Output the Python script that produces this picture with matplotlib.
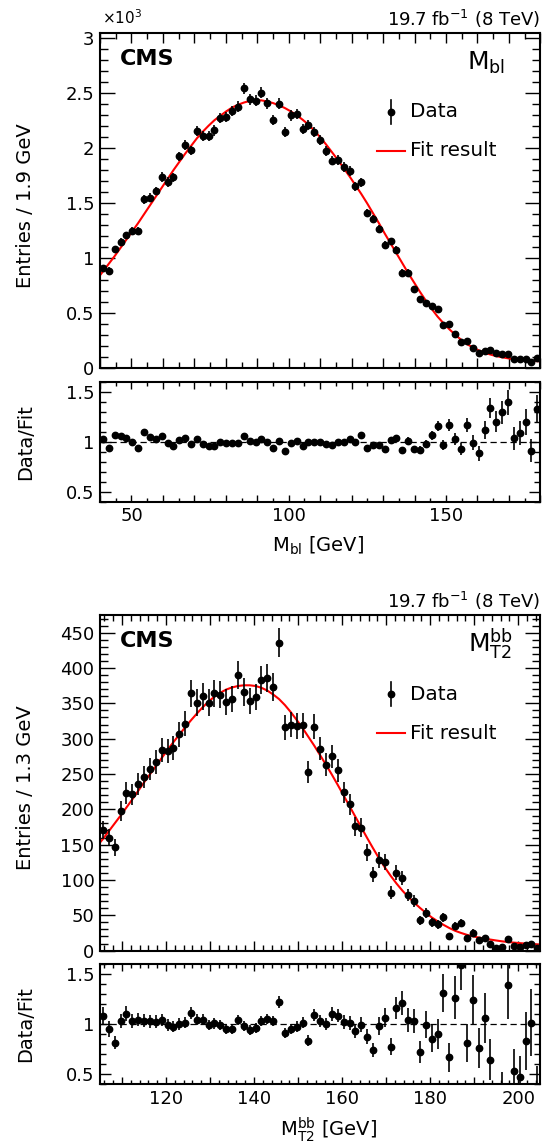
import numpy as np
import matplotlib
matplotlib.use('Agg')
import matplotlib.pyplot as plt
from matplotlib.ticker import MultipleLocator, FuncFormatter
from matplotlib.lines import Line2D

plt.rcParams['font.family'] = ['DejaVu Sans']
plt.rcParams['mathtext.fontset'] = 'dejavusans'
plt.rcParams['mathtext.default'] = 'regular'

# ---- M_bl distribution (75 bins, 40-180 GeV) ----
mbl_range = (40, 180)
mbl_counts = [908, 887, 1080, 1150, 1207, 1249, 1249, 1536, 1551, 1612,
              1739, 1693, 1736, 1926, 2029, 1980, 2156, 2110, 2110, 2162,
              2276, 2286, 2337, 2379, 2545, 2443, 2431, 2503, 2409, 2258,
              2403, 2144, 2298, 2310, 2174, 2210, 2150, 2074, 1973, 1888,
              1894, 1828, 1792, 1656, 1689, 1411, 1353, 1263, 1124, 1154,
              1079, 870, 870, 722, 634, 595, 568, 535, 393, 402,
              308, 236, 251, 181, 142, 157, 166, 136, 133, 130,
              85, 85, 85, 60, 90]
mbl_ratio = [1.027, 0.94, 1.067, 1.053, 1.037, 1.0, 0.94, 1.093, 1.043, 1.023,
             1.053, 0.983, 0.957, 1.02, 1.04, 0.977, 1.027, 0.977, 0.953, 0.953,
             0.997, 0.983, 0.99, 0.99, 1.053, 1.007, 0.997, 1.027, 0.993, 0.933,
             1.003, 0.903, 0.983, 1.003, 0.96, 0.997, 1.0, 0.993, 0.973, 0.963,
             0.993, 1.0, 1.023, 1.0, 1.067, 0.94, 0.967, 0.967, 0.923, 1.017,
             1.04, 0.917, 1.01, 0.923, 0.917, 0.977, 1.063, 1.157, 0.97, 1.167,
             1.03, 0.923, 1.167, 0.99, 0.883, 1.117, 1.337, 1.2, 1.293, 1.393,
             1.033, 1.09, 1.197, 0.91, 1.323]
# fit curve read at the bin centres, plus the values at the two axis ends
mbl_fit = [880, 950, 1020, 1095, 1170, 1245, 1320, 1400, 1480, 1560,
           1640, 1720, 1800, 1875, 1950, 2020, 2090, 2150, 2205, 2255,
           2295, 2335, 2370, 2395, 2415, 2430, 2435, 2435, 2425, 2410,
           2390, 2365, 2335, 2300, 2260, 2215, 2160, 2100, 2035, 1965,
           1895, 1820, 1745, 1665, 1585, 1500, 1410, 1320, 1225, 1135,
           1045, 955, 865, 780, 695, 615, 540, 470, 410, 355,
           305, 260, 220, 190, 163, 142, 125, 111, 100, 91,
           83, 77, 72, 68, 65]
mbl_fit_ends = [845, 63]

# ---- M_T2^bb distribution (75 bins, 105-205 GeV) ----
mt2_range = (105, 205)
mt2_counts = [171, 160, 146, 197, 223, 221, 236, 246, 257, 267,
              284, 282, 287, 306, 321, 364, 351, 360, 351, 364,
              362, 352, 356, 390, 366, 353, 359, 383, 386, 373,
              436, 316, 320, 318, 319, 253, 317, 286, 263, 275,
              255, 224, 207, 176, 174, 139, 108, 128, 125, 82,
              110, 103, 79, 70, 43, 53, 40, 37, 47, 21,
              35, 39, 18, 25, 15, 18, 10, 4, 5, 17,
              6, 5, 8, 9, 3]
mt2_ratio = [1.083, 0.95, 0.813, 1.03, 1.103, 1.03, 1.043, 1.033, 1.027, 1.023,
             1.04, 0.99, 0.973, 1.0, 1.013, 1.11, 1.043, 1.043, 0.99, 1.007,
             0.99, 0.95, 0.95, 1.04, 0.98, 0.94, 0.957, 1.03, 1.05, 1.03,
             1.223, 0.91, 0.95, 0.973, 1.013, 0.833, 1.09, 1.03, 1.0, 1.1,
             1.083, 1.02, 1.013, 0.93, 0.993, 0.873, 0.743, 0.98, 1.063, 0.773,
             1.16, 1.207, 1.04, 1.03, 0.717, 0.993, 0.853, 0.903, 1.307, 0.667,
             1.263, 1.59, 0.813, 1.243, 0.76, 1.063, 0.643, 0.27, 0.36, 1.39,
             0.53, 0.473, 0.83, 1.013, 0.37]
mt2_fit = [158, 169, 180, 191, 202.5, 214, 226, 238, 249.5, 261,
           272.5, 284, 295, 305.5, 316, 326, 335.5, 344.5, 352.5, 359.5,
           365, 369.5, 372.5, 374.5, 375.5, 375.5, 374.5, 372, 368, 362.5,
           356, 347.5, 337.5, 326.5, 315, 302.5, 290, 276.5, 263, 249,
           234.5, 219.5, 204.5, 189.5, 174.5, 159.5, 145, 131, 118, 106,
           95, 85, 76, 68, 60.5, 53.5, 47, 41.5, 36.5, 32,
           28, 25, 22.3, 20.2, 18.5, 17, 15.6, 14.3, 13.1, 12.1,
           11.3, 10.6, 9.9, 9.3, 8.8]
mt2_fit_ends = [153, 8.5]

W, H = 551, 1144
fig = plt.figure(figsize=(W / 100, H / 100), dpi=100)


def box(x0, y0, x1, y1):
    return [x0 / W, 1 - y1 / H, (x1 - x0) / W, (y1 - y0) / H]


def px(x, y):
    return x / W, 1 - y / H


def label_every(step):
    return FuncFormatter(lambda v, p: ('%g' % v) if abs(v / step - round(v / step)) < 1e-6 else '')


def draw(dy, counts, ratio, fit, fit_ends, xr, scale, ytop, ymaj, ymin,
         xmaj, xmin, xlab_step, ylab, xlab, xlab_x, varlab, varlab_x, varbase):
    ax = fig.add_axes(box(100, 32.7 + dy, 540.3, 368.3 + dy))
    rax = fig.add_axes(box(100, 381.7 + dy, 540.3, 501.7 + dy))

    counts = np.array(counts, float)
    ratio = np.array(ratio, float)
    edges = np.linspace(xr[0], xr[1], len(counts) + 1)
    centers = 0.5 * (edges[:-1] + edges[1:])

    ax.errorbar(centers, counts / scale, yerr=np.sqrt(counts) / scale, fmt='o',
                color='black', ms=4.6, elinewidth=1.2, capsize=0, zorder=3)
    fx = np.concatenate([[xr[0]], centers, [xr[1]]])
    fy = np.concatenate([[fit_ends[0]], fit, [fit_ends[1]]])
    ax.plot(fx, fy / scale, color='red', lw=1.5, zorder=2)
    ax.set_xlim(*xr)
    ax.set_ylim(0, ytop)

    rax.axhline(1, color='black', lw=0.9, ls=(0, (5, 3)), zorder=1)
    rax.errorbar(centers, ratio, yerr=ratio / np.sqrt(counts), fmt='o',
                 color='black', ms=4.6, elinewidth=1.2, capsize=0, zorder=3)
    rax.set_xlim(*xr)
    rax.set_ylim(0.4, 1.6)

    for a in (ax, rax):
        a.xaxis.set_major_locator(MultipleLocator(xmaj))
        a.xaxis.set_minor_locator(MultipleLocator(xmin))
        a.xaxis.set_major_formatter(label_every(xlab_step))
        a.tick_params(which='both', direction='in', top=True, right=True,
                      width=1.0, labelsize=13, pad=4)
        for s in a.spines.values():
            s.set_linewidth(1.5)
    ax.yaxis.set_major_locator(MultipleLocator(ymaj))
    ax.yaxis.set_minor_locator(MultipleLocator(ymin))
    ax.yaxis.set_major_formatter(FuncFormatter(lambda v, p: '%g' % v))
    ax.tick_params(axis='y', which='major', length=10.5)
    ax.tick_params(axis='y', which='minor', length=5.5)
    ax.tick_params(axis='x', which='major', length=7)
    ax.tick_params(axis='x', which='minor', length=4)
    ax.tick_params(labelbottom=False)
    rax.yaxis.set_major_locator(MultipleLocator(0.5))
    rax.yaxis.set_minor_locator(MultipleLocator(0.1))
    rax.yaxis.set_major_formatter(FuncFormatter(lambda v, p: '%g' % v))
    rax.tick_params(axis='y', which='major', length=8)
    rax.tick_params(axis='y', which='minor', length=4.5)
    rax.tick_params(axis='x', which='major', length=5)
    rax.tick_params(axis='x', which='minor', length=3)

    # texts
    fig.text(*px(540, 26 + dy), '19.7 fb$^{-1}$ (8 TeV)', ha='right', va='baseline', fontsize=13)
    fig.text(*px(120, 65 + dy), 'CMS', ha='left', va='baseline', fontsize=16, fontweight='bold')
    fig.text(*px(varlab_x, varbase + dy), varlab, ha='right', va='baseline', fontsize=18)
    fig.text(*px(25.5, 123 + dy), ylab, rotation=90, ha='center', va='top', fontsize=14)
    fig.text(*px(25.5, 441.7 + dy), 'Data/Fit', rotation=90, ha='center', va='center', fontsize=14)
    fig.text(*px(xlab_x[0], xlab_x[1]), xlab, ha='center', va='baseline', fontsize=14)

    # legend
    mx, my = px(390.5, 111.7 + dy)
    fig.add_artist(Line2D([mx, mx], [my - 12 / H, my + 12 / H], color='black', lw=1.2,
                          transform=fig.transFigure))
    fig.add_artist(Line2D([mx], [my], marker='o', ms=4.6, color='black',
                          transform=fig.transFigure))
    fig.text(*px(410, 111.7 + dy), 'Data', ha='left', va='center', fontsize=14.4)
    lx0, ly = px(377, 151 + dy)
    lx1, _ = px(405, 151 + dy)
    fig.add_artist(Line2D([lx0, lx1], [ly, ly], color='red', lw=1.5, transform=fig.transFigure))
    fig.text(*px(410, 151 + dy), 'Fit result', ha='left', va='center', fontsize=14.4)
    return ax


ax1 = draw(0, mbl_counts, mbl_ratio, mbl_fit, mbl_fit_ends, mbl_range, 1000.0, 3.05,
           0.5, 0.1, 10, 5, 50, 'Entries / 1.9 GeV', r'$\mathrm{M}_{\mathrm{bl}}$ [GeV]',
           (318, 552), r'$\mathrm{M}_{\mathrm{bl}}$', 505, 70)
fig.text(*px(102, 24), '×10$^{3}$', ha='left', va='baseline', fontsize=11)

ax2 = draw(582.3, mt2_counts, mt2_ratio, mt2_fit, mt2_fit_ends, mt2_range, 1.0, 475,
           50, 10, 10, 2, 20, 'Entries / 1.3 GeV', r'$\mathrm{M}_{\mathrm{T2}}^{\mathrm{bb}}$ [GeV]',
           (329, 1136), r'$\mathrm{M}_{\mathrm{T2}}^{\mathrm{bb}}$', 513, 70)

fig.savefig('out.png', dpi=100)
